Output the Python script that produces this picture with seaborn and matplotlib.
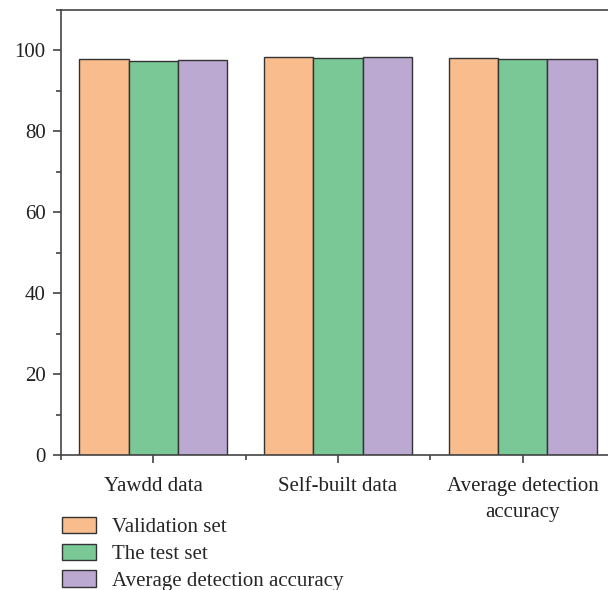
import pandas as pd
import seaborn as sns
import matplotlib.pyplot as plt
from matplotlib.ticker import MultipleLocator, FixedLocator

categories = ["Yawdd data", "Self-built data", "Average detection\naccuracy"]
series = ["Validation set", "The test set", "Average detection accuracy"]
validation = [97.8, 98.35, 98.1]
test_set = [97.35, 98.1, 97.8]
average = [97.6, 98.3, 97.95]
colors = ["#F8BC8D", "#7BC897", "#BBA9D1"]

rows = []
for name, vals in zip(series, [validation, test_set, average]):
    for cat, v in zip(categories, vals):
        rows.append({"category": cat, "series": name, "value": v})
df = pd.DataFrame(rows)

sns.set_style("ticks")
plt.rcParams["font.family"] = ["Liberation Serif", "DejaVu Serif"]
plt.rcParams["font.size"] = 15

fig = plt.figure(figsize=(6.08, 5.90), dpi=100)
ax = fig.add_axes([61 / 608, 135 / 590, 554 / 608, 445 / 590])

sns.barplot(data=df, x="category", y="value", hue="series", palette=colors,
            edgecolor="#333333", linewidth=1.0, width=0.8, saturation=1, ax=ax)

ax.set_ylim(0, 110)
ax.set_xlim(-0.5, 2.5)
ax.yaxis.set_major_locator(MultipleLocator(20))
ax.yaxis.set_minor_locator(MultipleLocator(10))
ax.xaxis.set_minor_locator(FixedLocator([-0.5, 0.5, 1.5]))
ax.tick_params(axis="both", which="major", direction="out", length=6, width=1.2,
               color="#444444", labelsize=15, labelcolor="#222222")
ax.tick_params(axis="both", which="minor", direction="out", length=3.5, width=1.2,
               color="#444444")
ax.tick_params(axis="x", which="major", pad=10)
ax.tick_params(axis="y", which="major", pad=5)
for lbl in ax.get_xticklabels():
    lbl.set_linespacing(1.45)
for s in ["left", "bottom", "top", "right"]:
    ax.spines[s].set_visible(True)
    ax.spines[s].set_color("#444444")
    ax.spines[s].set_linewidth(1.2)
ax.set_xlabel("")
ax.set_ylabel("")

handles, labels = ax.get_legend_handles_labels()
ax.get_legend().remove()
fig.legend(handles, labels, loc="upper left", bbox_to_anchor=(58 / 608, 1 - 513 / 590),
           frameon=False, fontsize=15, handlelength=1.63, handleheight=0.82,
           labelspacing=0.3, handletextpad=0.77, borderpad=0.2, borderaxespad=0)

fig.savefig("out.png", dpi=100)
